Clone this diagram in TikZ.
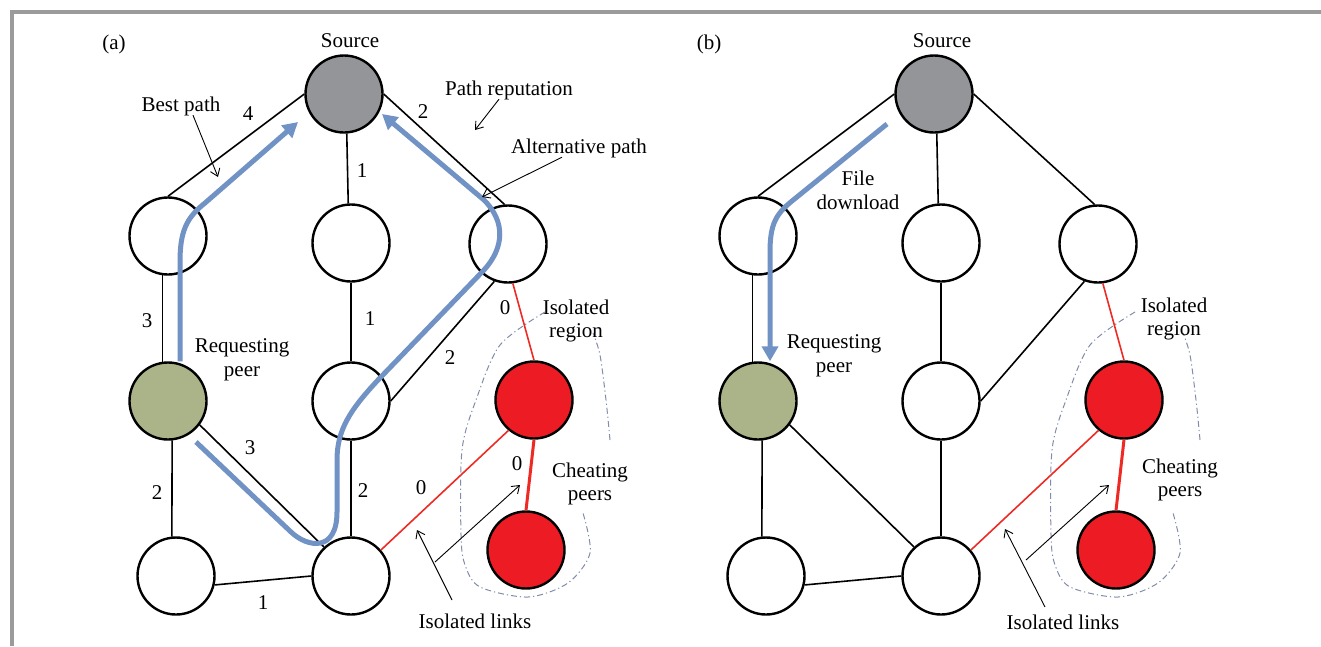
\documentclass[tikz,border=0pt]{standalone}
\usepackage{fontspec}
\setmainfont{Liberation Serif}
\usetikzlibrary{arrows.meta}
\definecolor{framegray}{RGB}{155,155,155}
\definecolor{srcgray}{RGB}{147,149,152}
\definecolor{peergreen}{RGB}{170,180,136}
\definecolor{cheatred}{RGB}{237,28,36}
\definecolor{linered}{RGB}{238,42,36}
\definecolor{pathblue}{RGB}{112,146,196}
\definecolor{regionline}{RGB}{130,140,170}
\newcommand\drawpanel[1]{%
  \node[peer, fill=srcgray] (#1S) at (344,94) {};
  \node[peer] (#1L1) at (168,236) {};
  \node[peer] (#1M1) at (351,243) {};
  \node[peer] (#1R1) at (508,244) {};
  \node[peer, fill=peergreen] (#1G) at (168,401) {};
  \node[peer] (#1M2) at (351,401) {};
  \node[peer, fill=cheatred] (#1D1) at (534,400) {};
  \node[peer] (#1BL) at (176,576) {};
  \node[peer] (#1BM) at (351,576) {};
  \node[peer, fill=cheatred] (#1D2) at (526,550) {};
  \draw[edge] (#1S.west) -- (#1L1.north);
  \draw[edge] (#1S.-86) -- (#1M1.94);
  \draw[edge] (#1S.east) -- (#1R1.95);
  \draw[edge] (#1L1.262) -- (#1G.98);
  \draw[edge] (#1M1.south) -- (#1M2.north);
  \draw[edge] (#1R1.-110) -- (#1M2.east);
  \draw[redge] (#1R1.-83) -- (#1D1.north);
  \draw[edge] (#1G.-84) -- (#1BL.96);
  \draw[edge] (#1G.-37) -- (#1BM.133);
  \draw[edge] (#1M2.south) -- (#1BM.north);
  \draw[edge] (#1BL.-13) -- (#1BM.180);
  \draw[redge] (#1BM.41) -- (#1D1.230);
  \draw[redthick] (#1D1.south) -- (#1D2.north);
  \draw[region] plot[smooth] coordinates {(545,312) (500,345) (476,400) (462,450) (461,535) (465,565) (480,587) (528,597) (568,583) (590,553) (583,513)};
  \draw[region] plot[smooth] coordinates {(610,440) (606,400) (600,355) (593,333)};
}
\begin{document}
\begin{tikzpicture}[x=1pt,y=-1pt,
  peer/.style={circle, draw, line width=2.4pt, minimum size=77pt, inner sep=0pt, fill=white},
  edge/.style={line width=1.6pt},
  redge/.style={line width=1.6pt, draw=linered},
  redthick/.style={line width=3pt, draw=linered},
  region/.style={line width=1pt, draw=regionline, dash pattern=on 6pt off 3pt on 1.2pt off 3pt},
  bluepath/.style={line width=5pt, draw=pathblue},
  bluetip/.style={-{Triangle[length=15pt,width=16pt]}},
  note/.style={line width=0.9pt, -{Straight Barb[length=7pt,width=10pt]}},
  lbl/.style={font=\fontsize{21}{24}\selectfont, inner sep=0pt, text height=14pt, text depth=0pt}]
\useasboundingbox (0,0) rectangle (1321,646);
% frame
\draw[framegray, line width=4pt] (10,12) -- (1321,12);
\draw[framegray, line width=4pt] (12,10) -- (12,646);

% ---------------- panel (a)
\begin{scope}
\drawpanel{a}
\end{scope}
\draw[bluepath, bluetip] (aG.north -| 180,0) -- (180,262) .. controls (180,232) and (186,218) .. (205,203) -- (298,122);
\draw[bluepath, bluetip] (196,442) -- (291,532) .. controls (308,548) and (337,552) .. (337,512) -- (337,460) .. controls (337,430) and (350,410) .. (378,380) -- (484,270) .. controls (504,248) and (506,222) .. (484,200) -- (382,114);

\node[lbl] (ta) at (114,42) {(a)};
\node[lbl] (srca) at (350,40) {Source};
\node[lbl] (best) at (181,104) {Best path};
\node[lbl] (prep) at (509,88) {Path reputation};
\node[lbl] (alt) at (579,146) {Alternative path};
\node[lbl] (reqa1) at (242,345) {Requesting};
\node[lbl] (reqa2) at (242,369) {peer};
\node[lbl] (isoa1) at (576,307) {Isolated};
\node[lbl] (isoa2) at (576,330) {region};
\node[lbl] (cha1) at (590,470) {Cheating};
\node[lbl] (cha2) at (590,493) {peers};
\node[lbl] (lnka) at (475,621) {Isolated links};
% weights
\node[lbl] (w1) at (248,113) {4};
\node[lbl] (w2) at (423,111) {2};
\node[lbl] (w3) at (362,170) {1};
\node[lbl] (w4) at (147,320) {3};
\node[lbl] (w5) at (370,318) {1};
\node[lbl] (w6) at (505,307) {0};
\node[lbl] (w7) at (450,357) {2};
\node[lbl] (w8) at (250,447) {3};
\node[lbl] (w9) at (157,492) {2};
\node[lbl] (w10) at (363,490) {2};
\node[lbl] (w11) at (421,487) {0};
\node[lbl] (w12) at (517,463) {0};
\node[lbl] (w13) at (263,602) {1};
% annotation arrows
\coordinate (bp1) at (218,177);
\coordinate (pr1) at (475,130);
\coordinate (al1) at (482,197);
\coordinate (la0) at (452,600);
\coordinate (la1) at (417,530);
\coordinate (la2) at (435,562);
\coordinate (la3) at (520,485);
\draw[note] (best.south) ++(12,4) -- (bp1);
\draw[note] (prep.south) ++(-10,4) -- (pr1);
\draw[note] (alt.south) ++(-17,4) -- (al1);
\draw[note] (la0) -- (la1);
\draw[note] (la2) -- (la3);

% ---------------- panel (b)
\begin{scope}[xshift=590]
\drawpanel{b}
\end{scope}
\draw[bluepath, bluetip] (887,124) -- (792,201) .. controls (776,214) and (770,224) .. (770,252) -- (bG.north -| 770,0);

\node[lbl] (tb) at (709,42) {(b)};
\node[lbl] (srcb) at (942,40) {Source};
\node[lbl] (fd1) at (858,178) {File};
\node[lbl] (fd2) at (858,202) {download};
\node[lbl] (reqb1) at (834,341) {Requesting};
\node[lbl] (reqb2) at (834,365) {peer};
\node[lbl] (isob1) at (1174,305) {Isolated};
\node[lbl] (isob2) at (1174,328) {region};
\node[lbl] (chb1) at (1180,466) {Cheating};
\node[lbl] (chb2) at (1180,489) {peers};
\node[lbl] (lnkb) at (1063,622) {Isolated links};
\coordinate (lb0) at (1045,607);
\coordinate (lb1) at (1005,529);
\coordinate (lb2) at (1026,560);
\coordinate (lb3) at (1109,485);
\draw[note] (lb0) -- (lb1);
\draw[note] (lb2) -- (lb3);
\end{tikzpicture}
\end{document}
